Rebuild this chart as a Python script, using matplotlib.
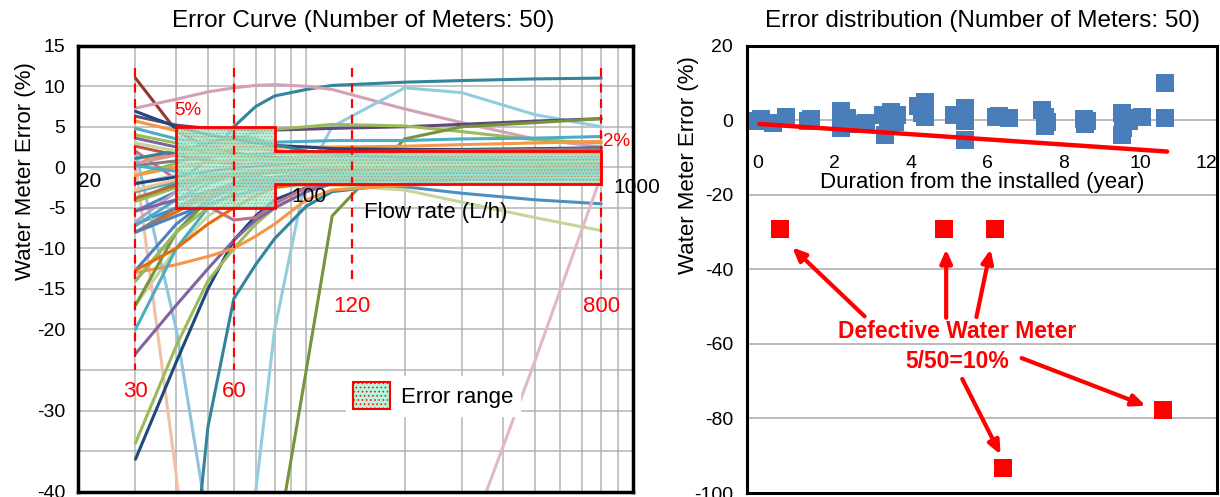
import matplotlib
matplotlib.use("Agg")
import matplotlib.pyplot as plt
from matplotlib.patches import Polygon, Patch
from matplotlib.ticker import NullLocator

plt.rcParams['font.family'] = ['Liberation Sans', 'DejaVu Sans']
plt.rcParams['hatch.linewidth'] = 0.6
plt.rcParams['axes.unicode_minus'] = False

# ---- left chart data: error (%) of each meter at the test flow rates ----
flow = [30, 40, 50, 60, 70, 80, 100, 120, 200, 300, 500, 800]

meter_colors = [
    "#943634", "#31859c", "#d5a0b5", "#93cddd", "#604a7b", "#9bbb59", "#77933c", "#c3d69b",
    "#4a90c0", "#e0b8c8", "#f2c0a8", "#8fc4dc", "#31849b", "#1f497d", "#9bbb59", "#8064a2",
    "#f79646", "#4f81bd", "#4bacc6", "#77933c", "#c0718a", "#4bacc6", "#f79646", "#1f497d",
    "#e46c0a", "#7f7f7f", "#4f81bd", "#9bbb59", "#8064a2", "#4bacc6", "#c0504d", "#f79646",
    "#95b3d7", "#4f81bd", "#d99694", "#b3a2c7", "#4bacc6", "#9bbb59", "#1f497d", "#f79646",
    "#31859c", "#7f7f7f", "#c3d69b", "#fac090", "#8064a2", "#4f81bd", "#9bbb59", "#e46c0a",
    "#4bacc6", "#b66d31",
]

meter_errors = [
    [11, 4.5, 2.5, 1.8, 1.4, 1.2, 1.0, 0.9, 0.8, 0.8, 0.9, 1.0],
    [-4, -2, 1, 5, 7.5, 8.8, 9.6, 10.1, 10.5, 10.7, 10.9, 11],
    [7.3, 8.4, 9.3, 9.8, 10.1, 10.2, 10.0, 9.6, 7.2, 5.5, 3.5, 2.5],
    [-120, -110, -95, -70, -40, -20, -1, 5, 9.8, 9.2, 6.5, 5],
    [6.3, 5.2, 4.8, 4.7, 4.6, 4.6, 4.7, 4.8, 5.0, 5.3, 5.7, 6.0],
    [-1, 0.5, 2, 3.5, 4.3, 4.7, 5, 5.3, 5.1, 4.4, 3.4, 3],
    [-140, -120, -100, -80, -62, -48, -25, -6, 3.5, 5, 5.5, 6],
    [-17, -10, -6, -4, -3, -2.5, -2.2, -2.2, -2.8, -4.3, -6.2, -7.8],
    [-7, -5, -3.5, -2.8, -2.4, -2.2, -2, -2, -2.4, -3.2, -4, -4.5],
    [-80, -85, -90, -95, -95, -90, -85, -80, -65, -48, -24, -1],
    [0.5, -38, -75, -100, -120, -130, -140, -150, -160, -170, -180, -190],
    [2, -20, -44, -70, -90, -100, -110, -120, -130, -140, -150, -160],
    [-100, -70, -32, -16.2, -12, -8.8, -4.8, -3, -2, -1.5, -1.5, -1.5],
    [-36, -24, -15, -9, -6, -4, -2.5, -1.8, -1, -0.8, -0.5, -0.5],
    [-34, -22, -14, -10, -7, -5, -3, -2, -1, -0.5, 0, 0],
    [-23, -17, -12.5, -9, -6.5, -5, -3, -2, -1, -1, -1, -1],
    [-13, -12, -11, -10, -8.5, -7, -4, -2.8, -2.2, -2, -2, -2],
    [-14, -8, -4, -2, -1, -0.5, 0, 0.2, 0.3, 0.4, 0.5, 0.5],
    [-20, -10, -5, -3, -2, -1.5, -1, -0.8, -0.5, -0.3, -0.2, 0],
    [-17, -8, -4, -2.5, -1.8, -1.3, -1, -0.8, -0.6, -0.4, -0.2, 0],
    [2, -1.5, -4.8, -6.5, -6.2, -4.5, -2.5, -1.8, -1.5, -1.2, -1, -1],
    [4.8, 3.5, 3, 3, 3, 3.1, 3.2, 3.3, 3.3, 3.5, 3.6, 3.8],
    [1.1, 1.5, 2, 2.3, 2.4, 2.5, 2.5, 2.5, 2.6, 2.8, 3, 3.2],
    [6.9, 5, 4, 3.5, 3, 2.7, 2.5, 2.3, 2.2, 2.2, 2.3, 2.4],
    [-8, -5.5, -3.5, -2.5, -2, -1.8, -1.5, -1.3, -1, -0.8, -0.6, -0.5],
    [0.2, 0.8, 1.2, 1.5, 1.6, 1.7, 1.8, 1.9, 2, 2.1, 2.2, 2.3],
    [-5.4, -3, -1.5, -0.8, -0.5, -0.3, 0, 0.2, 0.5, 0.8, 1, 1.2],
    [-4.2, -2.5, -1.5, -1, -0.6, -0.4, -0.2, 0, 0.3, 0.5, 0.6, 0.8],
    [3.6, 2.5, 1.8, 1.2, 1, 0.8, 0.6, 0.5, 0.4, 0.3, 0.2, 0.2],
    [-3, -1.8, -1, -0.5, -0.3, -0.1, 0.1, 0.3, 0.6, 0.9, 1.1, 1.4],
    [2.6, 1.5, 0.8, 0.4, 0.2, 0, -0.2, -0.3, -0.5, -0.6, -0.7, -0.8],
    [-1, 0, 0.6, 0.8, 0.9, 1, 1.1, 1.2, 1.3, 1.5, 1.7, 1.8],
    [-2, -1, -0.5, 0, 0.3, 0.4, 0.5, 0.6, 0.7, 0.8, 0.9, 1],
    [-12.7, -7, -4, -2.5, -1.7, -1.3, -1, -0.9, -0.7, -0.5, -0.4, -0.3],
    [0.5, 1.5, 2.5, 3, 2.5, 2, 1.5, 1.2, 1, 0.8, 0.7, 0.6],
    [-6.7, -3, -1, 0, 0.5, 0.7, 0.9, 1, 1.1, 1.2, 1.2, 1.3],
    [-7.2, -4, -2, -1, -0.5, -0.3, 0, 0.2, 0.5, 0.7, 0.9, 1.0],
    [-14, -8, -5, -3, -2, -1.5, -1, -0.7, -0.4, -0.2, 0, 0.2],
    [-2, -1.2, -0.6, -0.2, 0, 0.2, 0.4, 0.5, 0.6, 0.7, 0.8, 0.9],
    [5.7, 4.5, 3.5, 2.8, 2.4, 2.1, 1.8, 1.6, 1.5, 1.5, 1.6, 1.7],
    [1.1, 2, 3, 3.8, 3.5, 2.8, 2.0, 1.6, 1.2, 1.0, 0.9, 0.8],
    [-8, -5, -3, -2, -1.5, -1.2, -0.8, -0.5, -0.2, 0, 0.1, 0.2],
    [3, 2, 1.5, 1.2, 1.0, 0.8, 0.6, 0.5, 0.4, 0.3, 0.3, 0.3],
    [-2.8, -1.5, -0.8, -0.4, -0.2, 0, 0.2, 0.3, 0.4, 0.5, 0.6, 0.7],
    [-5.4, -4, -3, -2.4, -2, -1.7, -1.4, -1.2, -1, -0.9, -0.9, -0.9],
    [-8, -6, -4.5, -3.5, -2.8, -2.4, -2, -1.8, -1.6, -1.5, -1.5, -1.5],
    [4, 3, 2, 1.5, 1.2, 1, 0.8, 0.7, 0.6, 0.6, 0.6, 0.6],
    [-12.7, -10, -7, -5, -3.5, -2.5, -1.8, -1.5, -1.3, -1.2, -1.1, -1.0],
    [0.2, -0.5, -1, -1.2, -1.3, -1.3, -1.3, -1.2, -1.1, -1, -0.9, -0.8],
    [-3.8, -2.2, -1.4, -1.0, -0.8, -0.6, -0.4, -0.3, -0.2, 0.0, 0.2, 0.4],
]

# tolerance band: +-5 % at low flow, +-2 % from the transitional flow up
band_flow = [40, 80, 80, 800, 800, 80, 80, 40]
band_err = [5, 5, 2, 2, -2, -2, -5, -5]

# test flow markers (position on axis, label shown)
mark_flow = [30, 60, 138, 800]
mark_text = ["30", "60", "120", "800"]
mark_bottom = [-25, -25, -14.5, -14.5]

# ---- right chart data ----
normal_years = [0.03, 0.41, 0.75, 1.32, 2.19, 2.19, 2.34, 2.84, 3.29, 3.34, 3.42, 3.65,
                4.19, 4.37, 4.37, 5.14, 5.41, 5.41, 5.41, 6.22, 6.58, 7.44, 7.5, 7.5,
                8.52, 8.55, 9.51, 9.53, 9.7, 10.05, 10.64, 10.64, 0.1, 2.3, 3.5, 5.3,
                7.55, 8.6, 9.55, 4.3, 3.6, 2.4, 1.4, 6.3, 9.6]
normal_err = [-0.3, -0.8, 0.9, -0.3, 2.4, -2.1, 0.6, -0.8, 1.5, -3.9, 0.1, 1.5,
              3.7, 5.0, 1.0, 1.5, 3.3, -5.2, -0.3, 0.9, 0.6, 2.8, -1.6, 0.8,
              0.3, -0.9, 1.9, -3.9, -0.3, 0.9, 10.0, 0.6, 0.2, 0.0, 2.2, 1.3,
              -0.5, -0.1, -2.0, 2.0, -0.5, -1.0, 0.2, 1.2, 0.5]
defect_years = [0.59, 4.88, 6.2, 6.42, 10.6]
defect_err = [-29.1, -29.3, -29.1, -93.2, -77.7]
trend_years = [0.05, 10.7]
trend_err = [-1.0, -8.4]

fig = plt.figure(figsize=(12.2, 4.97), dpi=100)

# ================= left: error curves =================
ax1 = fig.add_axes([0.0639, 0.0107, 0.4549, 0.8974])
for c, vals in zip(meter_colors, meter_errors):
    ax1.plot(flow, vals, color=c, lw=2.2, zorder=2, solid_capstyle='round')

ax1.set_xscale('log')
ax1.set_xlim(20, 1000)
ax1.set_ylim(-40, 15)
grid_x = [20, 30, 40, 50, 60, 70, 80, 90, 100, 200, 300, 400, 500, 600, 700, 800, 900, 1000]
ax1.set_xticks(grid_x)
ax1.xaxis.set_minor_locator(NullLocator())
ax1.tick_params(axis='x', labelbottom=False, length=0)
yt = list(range(15, -41, -5))
ax1.set_yticks(yt, labels=['' if v in (-25, -35) else str(v) for v in yt])
ax1.tick_params(axis='y', length=0, pad=9, labelsize=14)
ax1.grid(True, color='#b4b4b4', lw=1.1)
ax1.set_axisbelow(True)
for s in ax1.spines.values():
    s.set_linewidth(2.5)
    s.set_color('black')

# band fill, dotted texture and outline
pts = list(zip(band_flow, band_err))
ax1.add_patch(Polygon(pts, closed=True, facecolor='#9ef2d2', edgecolor='none', alpha=0.8, zorder=3))
ax1.add_patch(Polygon(pts, closed=True, facecolor='none', edgecolor=(0.9, 0.25, 0.25, 0.45),
                      hatch='.....', lw=0, zorder=3))
ax1.add_patch(Polygon(pts, closed=True, facecolor='none', edgecolor='red', lw=2.0, zorder=4))

for q, t, yb in zip(mark_flow, mark_text, mark_bottom):
    ax1.plot([q, q], [12.2, yb], color='red', lw=1.6, ls=(0, (4, 3)), zorder=4)
    ax1.text(q, yb - 2.7, t, color='red', fontsize=16, ha='center', va='center', zorder=5)

ax1.text(43.3, 7.05, "5%", color='red', fontsize=13.5, ha='center', va='center', zorder=5)
ax1.text(812, 3.2, "2%", color='red', fontsize=13.5, ha='left', va='center', zorder=5, clip_on=False)
ax1.text(21.7, -1.7, "20", fontsize=15, ha='center', va='center', zorder=5)
ax1.text(102, -3.6, "100", fontsize=15, ha='center', va='center', zorder=5)
ax1.text(870, -2.5, "1000", fontsize=15, ha='left', va='center', zorder=5, clip_on=False)
ax1.text(249, -5.6, "Flow rate (L/h)", fontsize=16, ha='center', va='center', zorder=5)

leg_handle = Patch(facecolor='#b4f5dc', edgecolor='red', hatch='....', lw=1.5)
leg = ax1.legend([leg_handle], ["Error range"], loc='center', bbox_to_anchor=(0.64, 0.215),
                 fontsize=16, frameon=True, fancybox=False, handlelength=1.7, handleheight=1.5,
                 borderpad=0.3, handletextpad=0.5)
leg.get_frame().set_edgecolor('white')
leg.get_frame().set_facecolor('white')
leg.get_frame().set_alpha(1)

fig.text(0.298, 0.957, "Error Curve (Number of Meters: 50)", fontsize=17.5, ha='center', va='center')
fig.text(0.0205, 0.655, "Water Meter Error (%)", fontsize=16, rotation=90, ha='center', va='center')

# ================= right: error vs years =================
ax2 = fig.add_axes([0.6123, 0.0080, 0.3852, 0.9001])
ax2.scatter(normal_years, normal_err, marker='s', s=150, color='#4a7ebb', zorder=3, linewidths=0)
ax2.scatter(defect_years, defect_err, marker='s', s=165, color='#ff0000', zorder=3, linewidths=0)
ax2.plot(trend_years, trend_err, color='#ff0000', lw=3.2, zorder=4, solid_capstyle='round')

ax2.set_xlim(-0.27, 12)
ax2.set_ylim(-100, 20)
ax2.set_yticks(range(20, -101, -20))
ax2.tick_params(axis='y', length=0, pad=10, labelsize=14)
ax2.tick_params(axis='x', labelbottom=False, length=0)
ax2.set_xticks([])
ax2.grid(True, axis='y', color='#a8a8a8', lw=1.1)
ax2.set_axisbelow(True)
for s in ax2.spines.values():
    s.set_linewidth(2.2)
    s.set_color('black')

sec = ax2.secondary_xaxis(100 / 120)
sec.set_alignment('bottom')
sec.set_xticks(range(0, 13, 2))
sec.spines['bottom'].set_visible(False)
sec.spines['top'].set_visible(False)
sec.tick_params(length=0, pad=25, labelsize=14)
sec.set_xlabel("Duration from the installed (year)", fontsize=16, labelpad=0)
sec.get_xticklabels()[-1].set_horizontalalignment('right')

ax2.text(5.22, -56.8, "Defective Water Meter", color='red', fontsize=16.5, fontweight='bold',
         ha='center', va='center', zorder=5)
ax2.text(5.22, -64.6, "5/50=10%", color='red', fontsize=16.5, fontweight='bold',
         ha='center', va='center', zorder=5)

arrows = [((2.8, -52.6), (0.91, -34.1)), ((4.93, -53.0), (4.93, -34.6)),
          ((5.72, -52.8), (6.09, -34.6)), ((5.35, -69.4), (6.35, -89.7)),
          ((6.9, -63.8), (10.14, -76.6))]
for (x0, y0), (x1, y1) in arrows:
    ax2.annotate("", xy=(x1, y1), xytext=(x0, y0),
                 arrowprops=dict(arrowstyle='-|>,head_width=0.35,head_length=0.8',
                                 color='red', lw=3, shrinkA=0, shrinkB=0), zorder=5)

fig.text(0.805, 0.957, "Error distribution (Number of Meters: 50)", fontsize=17.5, ha='center', va='center')
fig.text(0.564, 0.668, "Water Meter Error (%)", fontsize=16, rotation=90, ha='center', va='center')

fig.savefig("out.png", dpi=100)
